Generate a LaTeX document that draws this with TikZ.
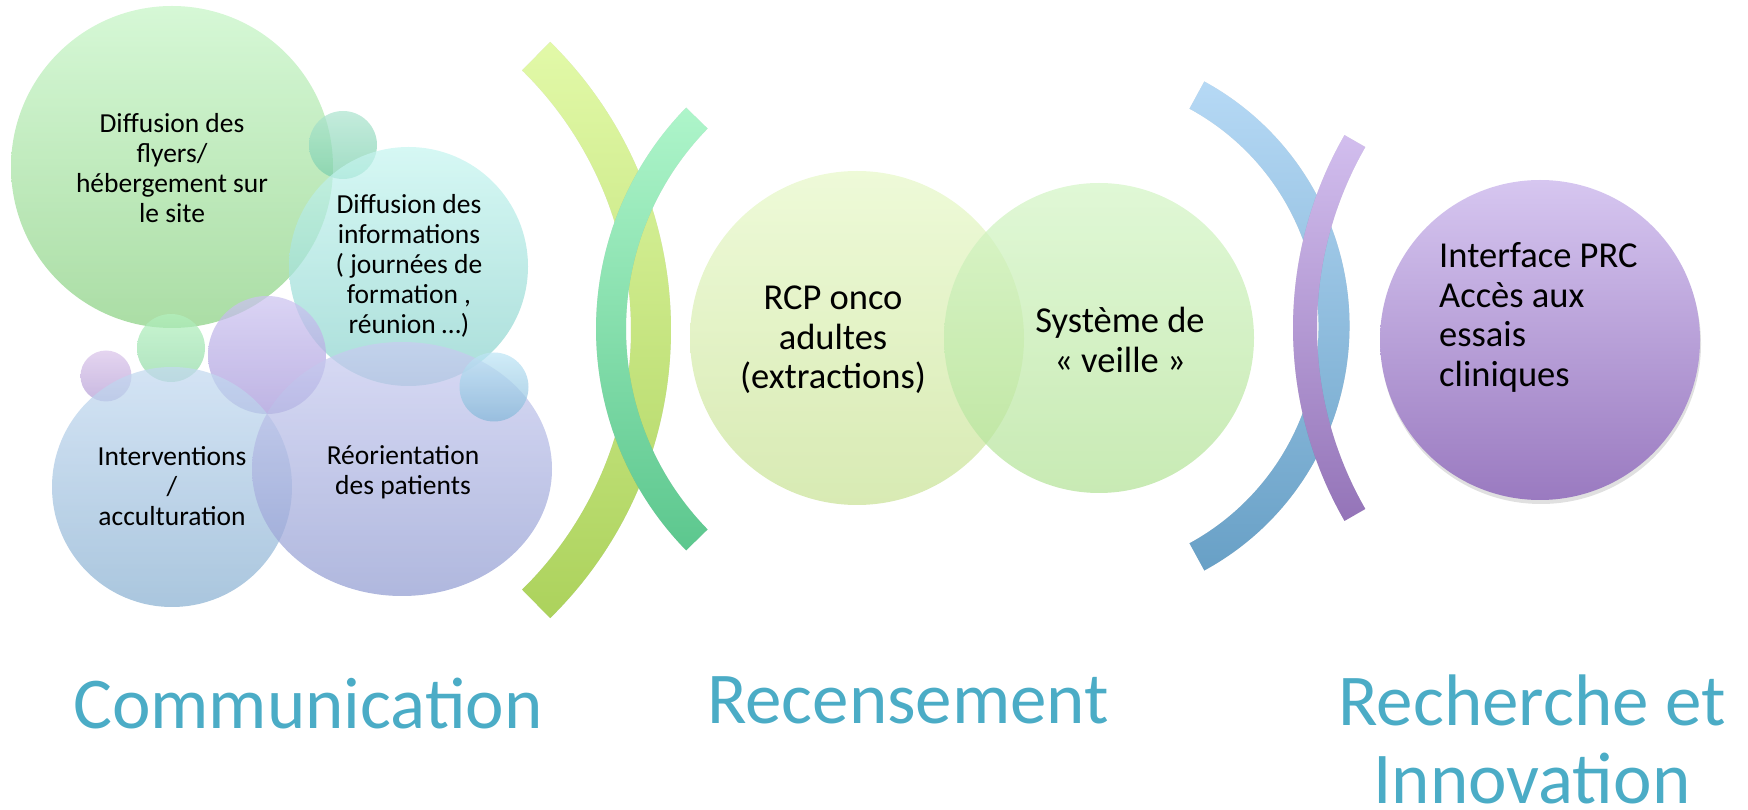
\documentclass[tikz,border=0pt]{standalone}
\usepackage{fontspec}
\setmainfont{Carlito}
\usetikzlibrary{shapes.geometric,calc}
\definecolor{ttlcol}{HTML}{4BACC6}
\definecolor{gBigT}{HTML}{C6F5C6}\definecolor{gBigB}{HTML}{8AD082}
\definecolor{cyT}{HTML}{C6F5F0}\definecolor{cyB}{HTML}{89D1CB}
\definecolor{blT}{HTML}{C3D9F0}\definecolor{blB}{HTML}{89B0D1}
\definecolor{peT}{HTML}{C9CCF0}\definecolor{peB}{HTML}{919CD1}
\definecolor{pmT}{HTML}{CCC3F0}\definecolor{pmB}{HTML}{A597D9}
\definecolor{psT}{HTML}{DAC4EA}\definecolor{psB}{HTML}{B39DD4}
\definecolor{gsT}{HTML}{B3F0BE}\definecolor{gsB}{HTML}{91D9A7}
\definecolor{tsT}{HTML}{ADE4CF}\definecolor{tsB}{HTML}{7BCFAD}
\definecolor{csT}{HTML}{BEE5F5}\definecolor{csB}{HTML}{86B8D9}
\definecolor{rcT}{HTML}{E7F8C9}\definecolor{rcB}{HTML}{C9E296}
\definecolor{syT}{HTML}{D4F5C6}\definecolor{syB}{HTML}{B3E297}
\definecolor{ifT}{HTML}{D6C6F0}\definecolor{ifB}{HTML}{9A7AC0}
\definecolor{limeT}{HTML}{E2F9A8}\definecolor{limeB}{HTML}{ACD25C}
\definecolor{grT}{HTML}{AEF5CA}\definecolor{grB}{HTML}{5CC78E}
\definecolor{bluT}{HTML}{B6D9F5}\definecolor{bluB}{HTML}{68A0C6}
\definecolor{purT}{HTML}{D2BEEE}\definecolor{purB}{HTML}{9474B8}
\tikzset{
  bubble/.style={circle, inner sep=0pt, draw=none, fill opacity=0.72},
  lbl/.style={align=center, font=\fontsize{27.5}{30}\selectfont, inner sep=0pt, text=black},
  mlbl/.style={font=\fontsize{36.5}{39.5}\selectfont, inner sep=0pt, text=black},
  ttl/.style={align=center, font=\fontsize{73}{78}\selectfont, text=ttlcol, inner sep=0pt, anchor=base},
  bandshadow/.style={fill=black, fill opacity=0.13}
}
\begin{document}
\begin{tikzpicture}[x=1pt,y=1pt]
\useasboundingbox (0,0) rectangle (1748,809);

% ---------- left cluster ----------
\node[bubble, minimum size=322pt, top color=gBigT, bottom color=gBigB] (flyers) at (172,642) {};
\node[bubble, minimum size=68pt, top color=tsT, bottom color=tsB] (s1) at (343,664) {};
\node[bubble, minimum size=239pt, top color=cyT, bottom color=cyB] (infos) at (408.5,542.5) {};
\node[bubble, minimum size=68pt, top color=gsT, bottom color=gsB] (s2) at (171,461) {};
\node[bubble, minimum size=51pt, top color=psT, bottom color=psB] (s3) at (106,433) {};
\node[bubble, minimum size=118pt, top color=pmT, bottom color=pmB] (s4) at (267,454) {};
\node[bubble, minimum size=240pt, top color=blT, bottom color=blB] (interv) at (172,322) {};
\node[ellipse, inner sep=0pt, draw=none, fill opacity=0.72, minimum width=300pt, minimum height=254pt, top color=peT, bottom color=peB] (reor) at (402,340) {};
\node[bubble, minimum size=69pt, top color=csT, bottom color=csB] (s5) at (494,422) {};

\node[lbl] (tflyers) at (172,641) {Diffusion des\\flyers/\\hébergement sur\\le site};
\node[lbl] (tinfos) at (409,543) {Diffusion des\\informations\\( journées de\\formation ,\\réunion …)};
\node[lbl] (tinterv) at (172,323) {Interventions\\/\\acculturation};
\node[lbl] (treor) at (403,337) {Réorientation\\des patients};

% ---------- left pair of arcs ----------
\coordinate (limeC) at (267,479);
\coordinate (grC) at (913,480);
\begin{scope}[shift={(2,-3)}]
\fill[bandshadow] ($(limeC)+(-45.5:404pt)$) arc[start angle=-45.5, end angle=45.5, radius=404pt] -- ($(limeC)+(45.5:364pt)$) arc[start angle=45.5, end angle=-45.5, radius=364pt] -- cycle;
\end{scope}
\shade[top color=limeT, bottom color=limeB] ($(limeC)+(-45.5:404pt)$) arc[start angle=-45.5, end angle=45.5, radius=404pt] -- ($(limeC)+(45.5:364pt)$) arc[start angle=45.5, end angle=-45.5, radius=364pt] -- cycle;
\begin{scope}[shift={(2,-3)}]
\fill[bandshadow] ($(grC)+(135.7:317pt)$) arc[start angle=135.7, end angle=224.3, radius=317pt] -- ($(grC)+(224.3:287pt)$) arc[start angle=224.3, end angle=135.7, radius=287pt] -- cycle;
\end{scope}
\shade[top color=grT, bottom color=grB] ($(grC)+(135.7:317pt)$) arc[start angle=135.7, end angle=224.3, radius=317pt] -- ($(grC)+(224.3:287pt)$) arc[start angle=224.3, end angle=135.7, radius=287pt] -- cycle;

% ---------- middle circles ----------
\node[bubble, minimum size=334pt, top color=rcT, bottom color=rcB] (rcp) at (857,471) {};
\node[bubble, minimum size=310pt, top color=syT, bottom color=syB] (veille) at (1099,471) {};
\node[mlbl, align=center] (trcp) at (833,469) {RCP onco\\adultes\\(extractions)};
\node[mlbl, align=center] (tveille) at (1120,469) {Système de\\« veille »};

% ---------- right pair of arcs ----------
\coordinate (bluC) at (1071,483);
\coordinate (purC) at (1680,481);
\begin{scope}[shift={(2,-3)}]
\fill[bandshadow] ($(bluC)+(-61.4:278.5pt)$) arc[start angle=-61.4, end angle=61.4, radius=278.5pt] -- ($(bluC)+(61.4:247.5pt)$) arc[start angle=61.4, end angle=-61.4, radius=247.5pt] -- cycle;
\end{scope}
\shade[top color=bluT, bottom color=bluB] ($(bluC)+(-61.4:278.5pt)$) arc[start angle=-61.4, end angle=61.4, radius=278.5pt] -- ($(bluC)+(61.4:247.5pt)$) arc[start angle=61.4, end angle=-61.4, radius=247.5pt] -- cycle;
\begin{scope}[shift={(2,-3)}]
\fill[bandshadow] ($(purC)+(150.1:387pt)$) arc[start angle=150.1, end angle=209.9, radius=387pt] -- ($(purC)+(209.9:363pt)$) arc[start angle=209.9, end angle=150.1, radius=363pt] -- cycle;
\end{scope}
\shade[top color=purT, bottom color=purB] ($(purC)+(150.1:387pt)$) arc[start angle=150.1, end angle=209.9, radius=387pt] -- ($(purC)+(209.9:363pt)$) arc[start angle=209.9, end angle=150.1, radius=363pt] -- cycle;

% ---------- right circle ----------
\fill[black, fill opacity=0.12] (1541,465) circle[radius=160pt];
\node[circle, inner sep=0pt, minimum size=320pt, top color=ifT, bottom color=ifB] (prc) at (1540,469) {};
\node[mlbl, align=left, anchor=west] (tprc) at (1439,491.5) {Interface PRC\\Accès aux\\essais\\cliniques};

% ---------- titles ----------
\node[ttl] (t1) at (308,81) {Communication};
\node[ttl] (t2) at (908,86) {Recensement};
\node[ttl] (t3) at (1532,6) {Recherche et\\Innovation};
\end{tikzpicture}
\end{document}
